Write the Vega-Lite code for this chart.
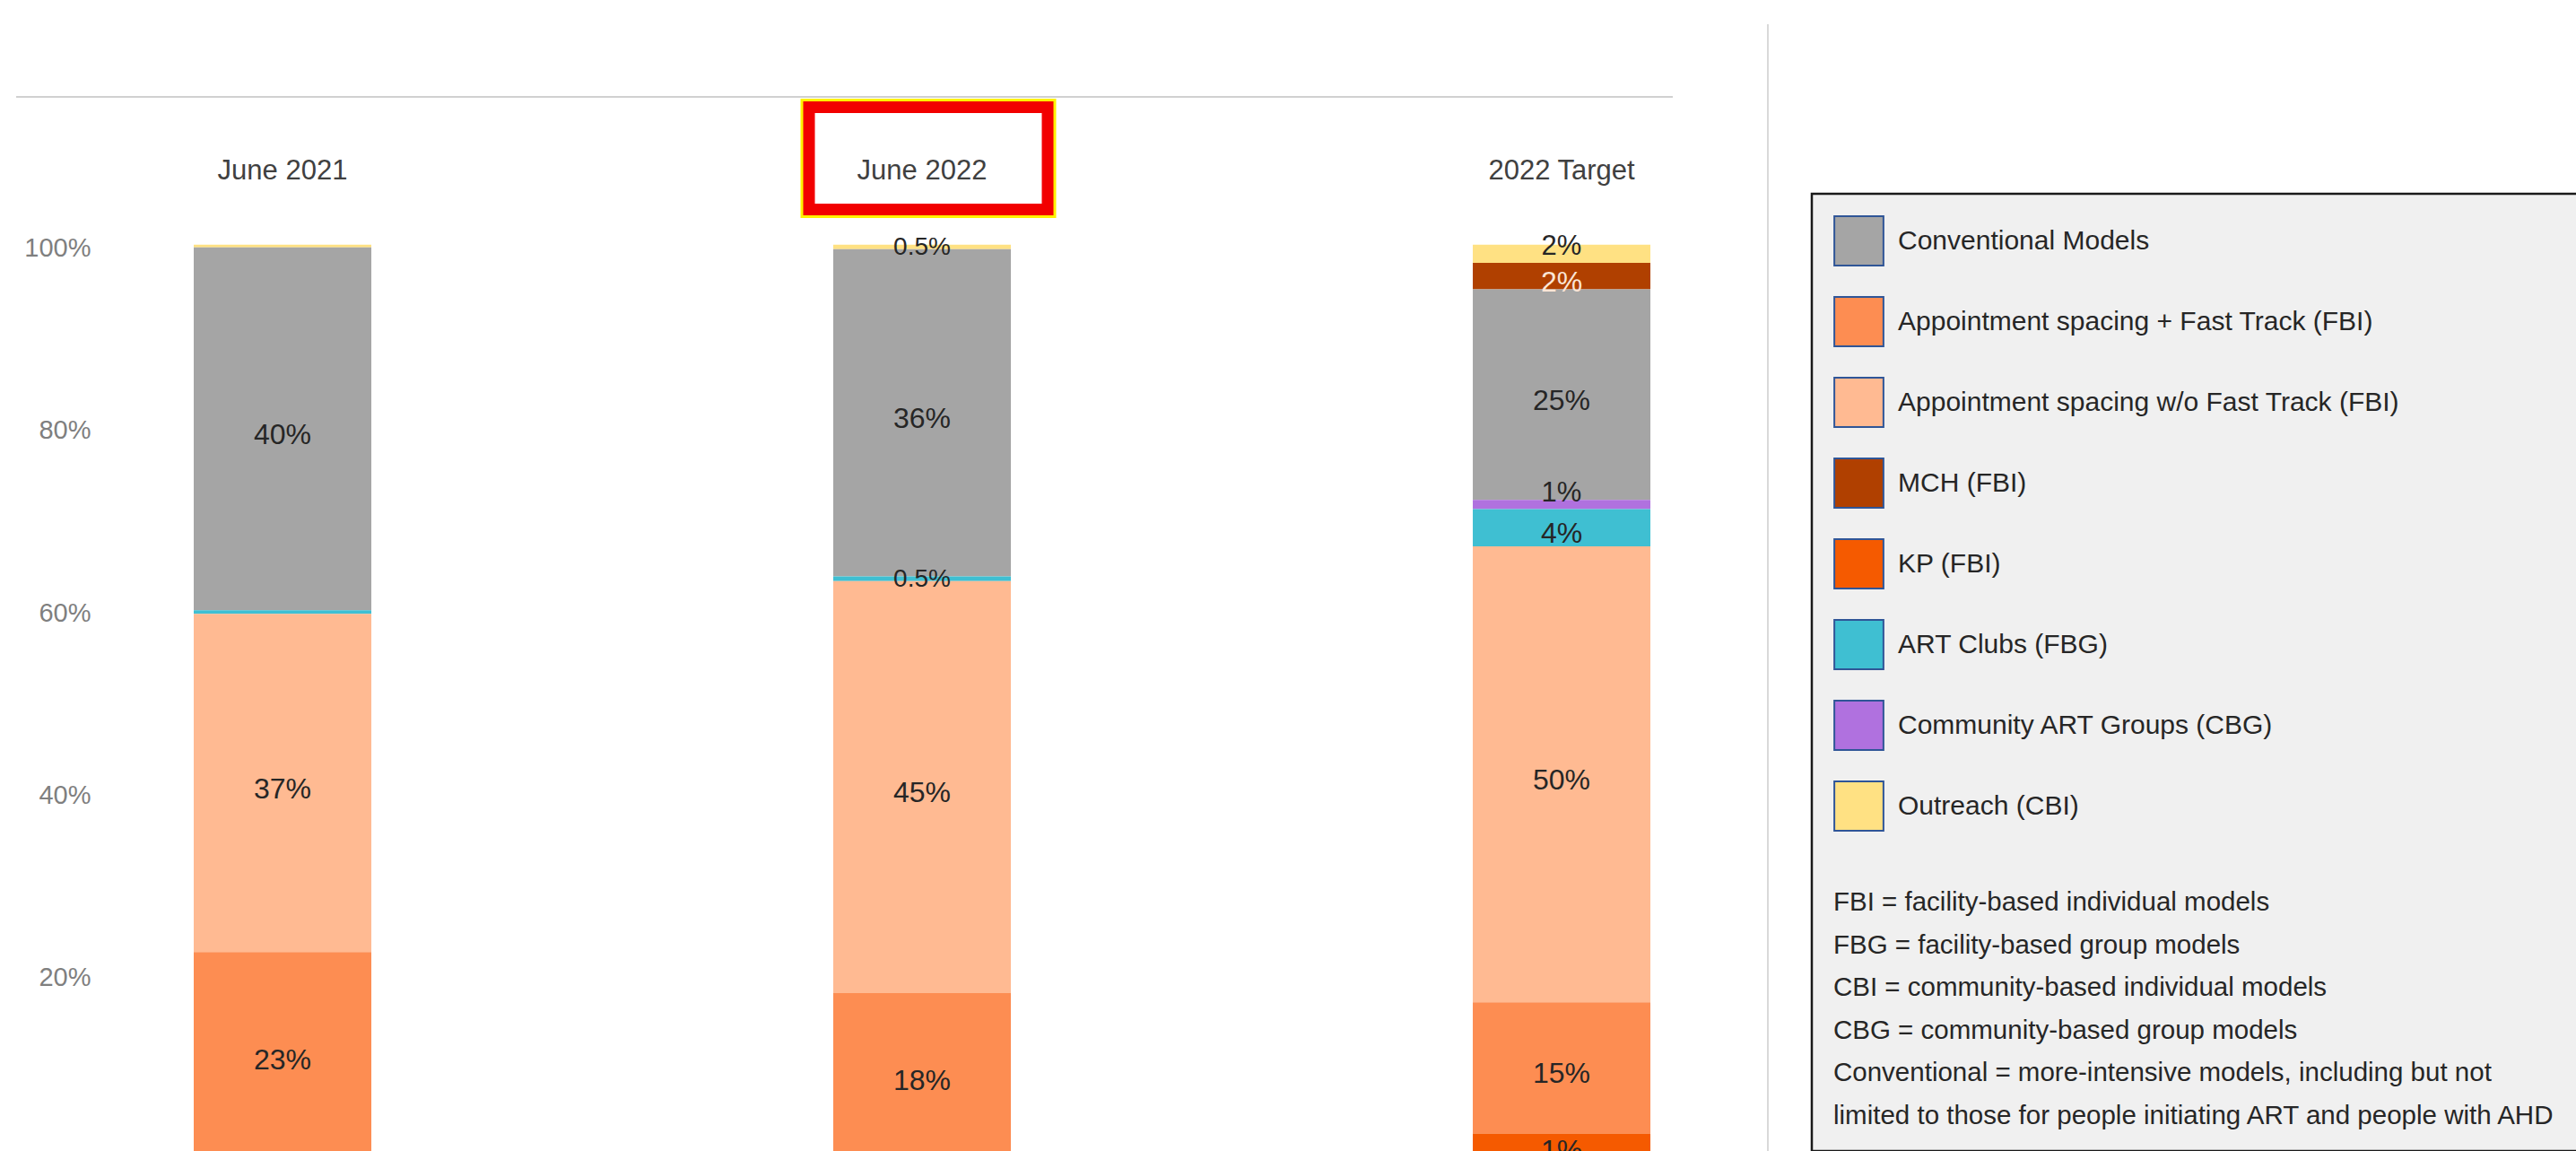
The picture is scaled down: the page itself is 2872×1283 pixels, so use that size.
{
  "$schema": "https://vega.github.io/schema/vega-lite/v6.json",
  "autosize": "none",
  "width": 1847,
  "height": 1181,
  "padding": {"left": 18, "top": 108, "right": 1007, "bottom": -6},
  "background": "white",
  "config": {"view": {"stroke": null}, "font": "Liberation Sans, Arial, sans-serif"},
  "datasets": {
    "dm": [
      {"period": "June 2021", "category": "Outreach (CBI)", "value": 0.003, "label": ""},
      {"period": "June 2021", "category": "Conventional Models", "value": 0.398, "label": "40%"},
      {"period": "June 2021", "category": "ART Clubs (FBG)", "value": 0.004, "label": ""},
      {"period": "June 2021", "category": "Appointment spacing w/o Fast Track (FBI)", "value": 0.371, "label": "37%"},
      {"period": "June 2021", "category": "Appointment spacing + Fast Track (FBI)", "value": 0.224, "label": "23%"},
      {"period": "June 2022", "category": "Outreach (CBI)", "value": 0.005, "label": "0.5%"},
      {"period": "June 2022", "category": "Conventional Models", "value": 0.359, "label": "36%"},
      {"period": "June 2022", "category": "ART Clubs (FBG)", "value": 0.005, "label": "0.5%"},
      {"period": "June 2022", "category": "Appointment spacing w/o Fast Track (FBI)", "value": 0.452, "label": "45%"},
      {"period": "June 2022", "category": "Appointment spacing + Fast Track (FBI)", "value": 0.179, "label": "18%"},
      {"period": "2022 Target", "category": "Outreach (CBI)", "value": 0.020, "label": "2%"},
      {"period": "2022 Target", "category": "MCH (FBI)", "value": 0.029, "label": "2%"},
      {"period": "2022 Target", "category": "Conventional Models", "value": 0.231, "label": "25%"},
      {"period": "2022 Target", "category": "Community ART Groups (CBG)", "value": 0.010, "label": "1%"},
      {"period": "2022 Target", "category": "ART Clubs (FBG)", "value": 0.041, "label": "4%"},
      {"period": "2022 Target", "category": "Appointment spacing w/o Fast Track (FBI)", "value": 0.500, "label": "50%"},
      {"period": "2022 Target", "category": "Appointment spacing + Fast Track (FBI)", "value": 0.144, "label": "15%"},
      {"period": "2022 Target", "category": "KP (FBI)", "value": 0.025, "label": "1%"}
    ],
    "heads": [
      {"period": "June 2021"},
      {"period": "June 2022"},
      {"period": "2022 Target"}
    ],
    "one": [{}]
  },
  "layer": [
    {
      "data": {"name": "dm"},
      "transform": [
        {"calculate": "indexof(['KP (FBI)','Appointment spacing + Fast Track (FBI)','Appointment spacing w/o Fast Track (FBI)','ART Clubs (FBG)','Community ART Groups (CBG)','Conventional Models','MCH (FBI)','Outreach (CBI)'], datum.category)", "as": "ord"},
        {"stack": "value", "groupby": ["period"], "sort": [{"field": "ord", "order": "ascending"}], "as": ["v0", "v1"]}
      ],
      "mark": {"type": "bar", "width": 198},
      "encoding": {
        "x": {"field": "period", "type": "nominal", "scale": {"type": "point", "domain": ["June 2021", "June 2022", "2022 Target"], "padding": 0.2952, "align": 0.7055}, "axis": null},
        "y": {"field": "v1", "type": "quantitative", "scale": {"domain": [0, 1.162], "nice": false, "zero": false},
          "axis": {"values": [0, 0.2, 0.4, 0.6, 0.8, 1], "format": ".0%", "title": null, "domain": false, "ticks": false, "grid": false, "labelPadding": -83, "labelAlign": "right", "labelOffset": 4, "labelFontSize": 29, "labelColor": "#7F7F7F"}},
        "y2": {"field": "v0"},
        "color": {
          "field": "category", "type": "nominal",
          "scale": {
            "domain": ["Conventional Models", "Appointment spacing + Fast Track (FBI)", "Appointment spacing w/o Fast Track (FBI)", "MCH (FBI)", "KP (FBI)", "ART Clubs (FBG)", "Community ART Groups (CBG)", "Outreach (CBI)"],
            "range": ["#A5A5A5", "#FD8D52", "#FFBA92", "#B04000", "#F55A00", "#3FBFD2", "#B071DF", "#FFE183"]
          },
          "legend": {
            "orient": "none", "legendX": 2002, "legendY": 108,
            "symbolType": "square", "symbolSize": 3000, "symbolStrokeColor": "#2F5597", "symbolStrokeWidth": 2, "symbolOpacity": 1,
            "labelFontSize": 30, "labelColor": "#262626", "labelOffset": 15, "labelLimit": 2000, "rowPadding": 27,
            "title": ["FBI = facility-based individual models", "FBG = facility-based group models", "CBI = community-based individual models", "CBG = community-based group models", "Conventional = more-intensive models, including but not", "limited to those for people initiating ART and people with AHD"],
            "titleOrient": "bottom", "titleAnchor": "start", "titleAlign": "left", "titleFontSize": 29.5, "titleFontWeight": "normal", "titleColor": "#262626", "titleLineHeight": 47.6, "titlePadding": 62, "titleLimit": 3000,
            "fillColor": "#F0F0F0", "strokeColor": "#1A1A1A", "padding": 24,
            "encode": {"legend": {"update": {"strokeWidth": {"value": 2.5}}}}
          }
        }
      }
    },
    {
      "data": {"name": "one"},
      "mark": {"type": "bar", "width": 266, "xOffset": 7, "fill": "white", "stroke": "#FFF200", "strokeWidth": 19},
      "encoding": {
        "x": {"datum": "June 2022", "type": "nominal", "scale": {"type": "point", "domain": ["June 2021", "June 2022", "2022 Target"], "padding": 0.2952, "align": 0.7055}, "axis": null},
        "y": {"datum": 1.0386, "type": "quantitative"},
        "y2": {"datum": 1.1507}
      }
    },
    {
      "data": {"name": "one"},
      "mark": {"type": "bar", "width": 266, "xOffset": 7, "fill": "white", "stroke": "#F20000", "strokeWidth": 13},
      "encoding": {
        "x": {"datum": "June 2022", "type": "nominal", "scale": {"type": "point", "domain": ["June 2021", "June 2022", "2022 Target"], "padding": 0.2952, "align": 0.7055}, "axis": null},
        "y": {"datum": 1.0386, "type": "quantitative"},
        "y2": {"datum": 1.1507}
      }
    },
    {
      "data": {"name": "heads"},
      "mark": {"type": "text", "fontSize": 31, "color": "#404040", "baseline": "middle"},
      "encoding": {
        "x": {"field": "period", "type": "nominal", "scale": {"type": "point", "domain": ["June 2021", "June 2022", "2022 Target"], "padding": 0.2952, "align": 0.7055}, "axis": null},
        "y": {"datum": 1.08, "type": "quantitative"},
        "text": {"field": "period"}
      }
    },
    {
      "data": {"name": "dm"},
      "transform": [
        {"calculate": "indexof(['KP (FBI)','Appointment spacing + Fast Track (FBI)','Appointment spacing w/o Fast Track (FBI)','ART Clubs (FBG)','Community ART Groups (CBG)','Conventional Models','MCH (FBI)','Outreach (CBI)'], datum.category)", "as": "ord"},
        {"stack": "value", "groupby": ["period"], "sort": [{"field": "ord", "order": "ascending"}], "as": ["v0", "v1"]},
        {"calculate": "(datum.v0 + datum.v1) / 2", "as": "mid"},
        {"calculate": "datum.category == 'Community ART Groups (CBG)' ? -12 : (datum.category == 'Outreach (CBI)' && datum.period == '2022 Target') ? -8 : (datum.period == 'June 2022' && (datum.category == 'Outreach (CBI)' || datum.category == 'ART Clubs (FBG)')) ? 1 : 7", "as": "shift"},
        {"filter": "datum.label != ''"}
      ],
      "layer": [
        {
          "transform": [{"filter": "datum.shift == 7"}],
          "mark": {"type": "text", "fontSize": 32, "dy": 7, "baseline": "middle"},
          "encoding": {
            "x": {"field": "period", "type": "nominal", "scale": {"type": "point", "domain": ["June 2021", "June 2022", "2022 Target"], "padding": 0.2952, "align": 0.7055}, "axis": null},
            "y": {"field": "mid", "type": "quantitative", "title": null},
            "text": {"field": "label"},
            "color": {"condition": {"test": "datum.category == 'MCH (FBI)'", "value": "#FBE5D6"}, "value": "#262626"}
          }
        },
        {
          "transform": [{"filter": "datum.shift == 1"}],
          "mark": {"type": "text", "fontSize": 28, "dy": 1, "baseline": "middle", "color": "#262626"},
          "encoding": {
            "x": {"field": "period", "type": "nominal", "scale": {"type": "point", "domain": ["June 2021", "June 2022", "2022 Target"], "padding": 0.2952, "align": 0.7055}, "axis": null},
            "y": {"field": "mid", "type": "quantitative", "title": null},
            "text": {"field": "label"}
          }
        },
        {
          "transform": [{"filter": "datum.shift == -8"}],
          "mark": {"type": "text", "fontSize": 31, "dy": -8, "baseline": "middle", "color": "#262626"},
          "encoding": {
            "x": {"field": "period", "type": "nominal", "scale": {"type": "point", "domain": ["June 2021", "June 2022", "2022 Target"], "padding": 0.2952, "align": 0.7055}, "axis": null},
            "y": {"field": "mid", "type": "quantitative", "title": null},
            "text": {"field": "label"}
          }
        },
        {
          "transform": [{"filter": "datum.shift == -12"}],
          "mark": {"type": "text", "fontSize": 31, "dy": -12, "baseline": "middle", "color": "#262626"},
          "encoding": {
            "x": {"field": "period", "type": "nominal", "scale": {"type": "point", "domain": ["June 2021", "June 2022", "2022 Target"], "padding": 0.2952, "align": 0.7055}, "axis": null},
            "y": {"field": "mid", "type": "quantitative", "title": null},
            "text": {"field": "label"}
          }
        }
      ]
    },
    {
      "data": {"name": "one"},
      "mark": {"type": "rule", "color": "#D0D0D0", "strokeWidth": 2},
      "encoding": {
        "y": {"datum": 1.162, "type": "quantitative"}
      }
    },
    {
      "data": {"name": "one"},
      "mark": {"type": "rule", "color": "#D9D9D9", "strokeWidth": 2},
      "encoding": {
        "x": {"datum": 1.0574, "type": "quantitative", "scale": {"domain": [0, 1], "nice": false, "zero": false}, "axis": null},
        "y": {"datum": 1.2418, "type": "quantitative"},
        "y2": {"datum": 0}
      }
    }
  ],
  "resolve": {"scale": {"x": "independent"}}
}
